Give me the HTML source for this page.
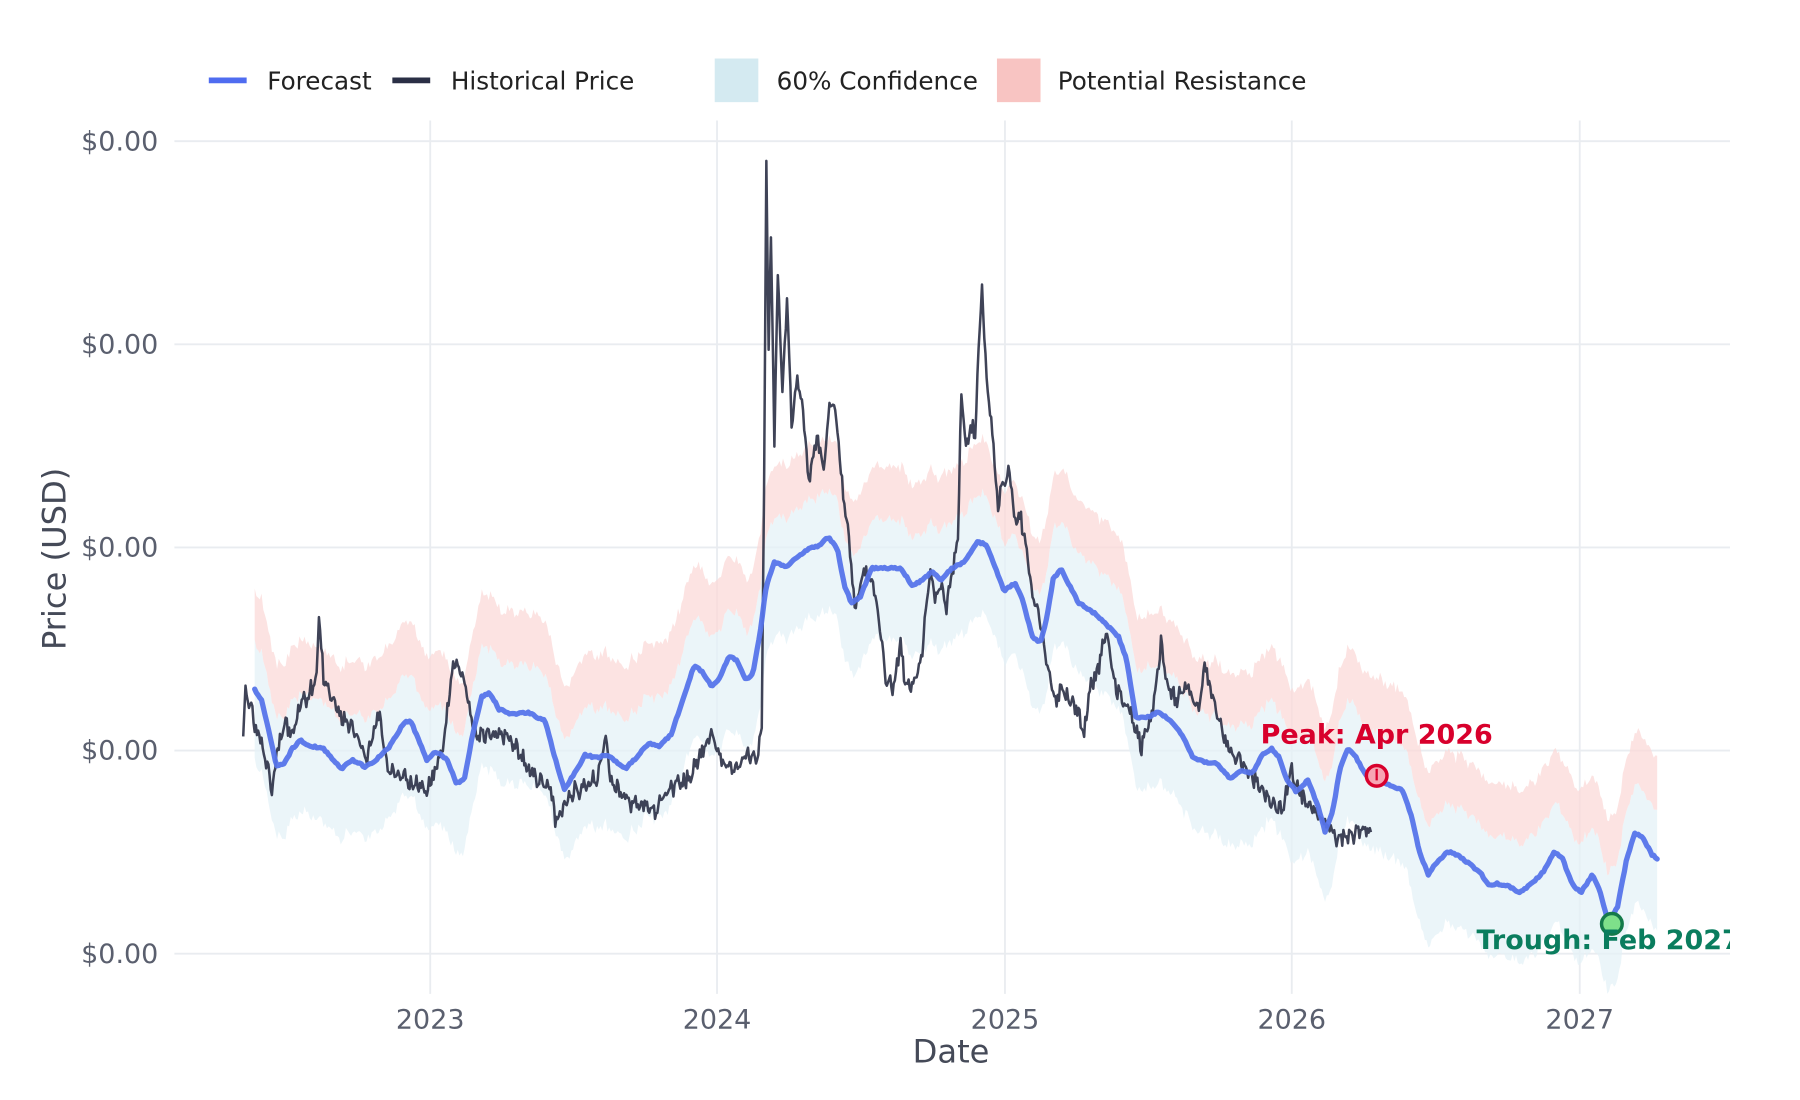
<!DOCTYPE html>
<html><head><meta charset="utf-8"><style>
html,body{margin:0;padding:0;background:#fff;}
svg{display:block;font-family:"DejaVu Sans","Liberation Sans",sans-serif;}
</style></head><body>
<svg id="s" width="1800" height="1100" viewBox="0 0 1569 958.5" preserveAspectRatio="none" xmlns="http://www.w3.org/2000/svg">
<rect width="1569" height="958.5" fill="#fff"/>
<g stroke="#e9ecf0" stroke-width="1.6">
<line x1="152" x2="1508" y1="123" y2="123"/><line x1="152" x2="1508" y1="300" y2="300"/>
<line x1="152" x2="1508" y1="477" y2="477"/><line x1="152" x2="1508" y1="654" y2="654"/>
<line x1="152" x2="1508" y1="831" y2="831"/>
<line x1="375" x2="375" y1="105" y2="866"/><line x1="625" x2="625" y1="105" y2="866"/>
<line x1="876" x2="876" y1="105" y2="866"/><line x1="1126" x2="1126" y1="105" y2="866"/>
<line x1="1377" x2="1377" y1="105" y2="866"/>
</g>
<g id="bands"></g>
<path id="hist" fill="none" stroke="#2a2f45" stroke-width="2.2" stroke-linejoin="round" opacity="0.9"/>
<path id="fc" fill="none" stroke="#5674ea" stroke-width="4.6" stroke-linejoin="round" stroke-linecap="round" opacity="0.95"/>
<g fill="#5a5f6e" font-size="23.5" text-anchor="end">
<text x="138" y="131">$0.00</text><text x="138" y="308">$0.00</text><text x="138" y="485">$0.00</text>
<text x="138" y="662">$0.00</text><text x="138" y="839">$0.00</text>
</g>
<g fill="#5a5f6e" font-size="23.5" text-anchor="middle">
<text x="375" y="896">2023</text><text x="625" y="896">2024</text><text x="876" y="896">2025</text>
<text x="1126" y="896">2026</text><text x="1377" y="896">2027</text>
</g>
<text x="829" y="926" font-size="28" fill="#454a58" text-anchor="middle">Date</text>
<text transform="translate(57,487) rotate(-90)" font-size="28" fill="#454a58" text-anchor="middle">Price (USD)</text>
<g font-size="21.5" fill="#222">
<line x1="182" x2="215" y1="70" y2="70" stroke="#4f6cf0" stroke-width="5"/><text x="233" y="78">Forecast</text>
<line x1="342" x2="375" y1="70" y2="70" stroke="#2a2f45" stroke-width="5"/><text x="393" y="78">Historical Price</text>
<rect x="623" y="51" width="38" height="38" fill="#d4eaf1"/><text x="677" y="78">60% Confidence</text>
<rect x="869" y="51" width="38" height="38" fill="#f8c4c2"/><text x="922" y="78">Potential Resistance</text>
</g>
<circle cx="1200" cy="676" r="9" fill="#f7a5b3" stroke="#d8002c" stroke-width="3"/>
<line x1="1200" x2="1200" y1="670" y2="680" stroke="#d8002c" stroke-width="2"/>
<text x="1200" y="648" font-size="23.5" font-weight="bold" fill="#d8002c" text-anchor="middle">Peak: Apr 2026</text>
<circle cx="1405" cy="805" r="9" fill="#7ee08a" stroke="#147a4a" stroke-width="3"/>
<svg x="0" y="0" width="1508" height="948" overflow="hidden"><text x="1287" y="827" font-size="23.5" font-weight="bold" fill="#0a7d5e">Trough: Feb 2027</text></svg>
</svg>
<script>
var F=[[222,601],[228,610],[235,640],[241,668],[248,665],[255,652],[262,645],[270,650],[282,652],[290,662],[298,670],[307,662],[318,668],[328,662],[340,650],[352,630],[358,628],[365,645],[372,662],[380,655],[390,662],[398,683],[405,678],[412,640],[420,607],[427,604],[435,618],[445,622],[460,621],[475,628],[485,665],[492,688],[500,675],[510,658],[520,660],[530,658],[545,670],[555,660],[565,648],[575,650],[585,640],[595,610],[605,580],[612,585],[620,598],[628,590],[635,572],[642,575],[650,592],[656,588],[662,555],[668,510],[675,490],[685,494],[695,485],[705,478],[715,475],[722,468],[730,478],[736,510],[742,525],[750,520],[760,495],[770,495],[785,495],[795,510],[805,505],[812,498],[820,505],[830,495],[840,490],[852,472],[860,475],[868,495],[875,515],[885,508],[892,525],[900,555],[907,560],[912,540],[918,505],[925,495],[932,510],[940,525],[955,535],[965,545],[975,555],[982,575],[990,625],[1000,625],[1010,620],[1020,628],[1030,640],[1040,660],[1050,664],[1060,665],[1072,678],[1082,672],[1092,673],[1100,658],[1108,652],[1115,660],[1122,680],[1130,690],[1140,680],[1148,700],[1155,725],[1162,705],[1168,670],[1175,652],[1182,660],[1190,675],[1200,678],[1210,684],[1222,688],[1230,710],[1238,745],[1245,762],[1252,752],[1262,742],[1270,745],[1280,752],[1290,760],[1298,772],[1305,770],[1315,772],[1325,778],[1335,770],[1345,760],[1355,742],[1362,748],[1370,770],[1378,778],[1388,762],[1395,778],[1402,805],[1410,790],[1418,748],[1425,726],[1432,730],[1440,745],[1445,748]];
var H=[[212,640],[214,600],[218,615],[225,640],[232,660],[237,690],[242,650],[248,630],[255,640],[262,615],[270,605],[276,590],[278,535],[282,590],[290,610],[298,625],[305,630],[312,645],[320,660],[330,620],[338,670],[345,675],[355,680],[365,684],[372,688],[380,670],[388,640],[395,575],[402,585],[408,610],[415,640],[422,640],[430,640],[440,640],[450,650],[460,670],[470,680],[480,690],[485,715],[490,705],[500,690],[510,685],[520,680],[528,640],[532,680],[540,690],[550,700],[560,700],[570,710],[580,690],[590,680],[600,680],[610,660],[620,640],[630,665],[640,670],[650,660],[660,660],[664,630],[666,430],[668,142],[670,300],[672,210],[675,380],[678,240],[682,340],[686,260],[690,370],[695,330],[700,355],[705,420],[712,380],[718,410],[722,360],[727,350],[730,380],[735,430],[740,470],[745,530],[752,500],[758,500],[765,530],[772,590],[778,600],[785,560],[790,600],[795,595],[800,590],[805,560],[810,500],[815,520],[820,510],[825,530],[830,500],[835,470],[838,340],[842,390],[846,370],[850,380],[854,280],[856,250],[858,300],[862,350],[866,390],[870,440],[875,420],[880,410],[885,455],[890,450],[895,480],[900,520],[905,530],[910,560],[915,590],[920,610],[925,600],[932,610],[940,620],[945,640],[950,600],[955,590],[960,570],[965,550],[970,590],[978,610],[985,620],[995,650],[1005,620],[1012,560],[1018,600],[1025,610],[1035,600],[1045,620],[1050,580],[1055,600],[1060,620],[1070,650],[1078,660],[1085,670],[1095,680],[1100,690],[1110,700],[1118,705],[1125,670],[1132,690],[1140,700],[1150,710],[1158,720],[1165,730],[1172,730],[1180,725],[1188,722],[1195,724]];
function interp(P,x){for(var i=1;i<P.length;i++){if(x<=P[i][0]){var a=P[i-1],b=P[i],t=(x-a[0])/(b[0]-a[0]||1);return a[1]+t*(b[1]-a[1]);}}return P[P.length-1][1];}
function nz(x){return Math.sin(x*1.7)*0.5+Math.sin(x*3.1+1)*0.35+Math.sin(x*0.53+2)*0.6;}
var seed=7;function rnd(){seed=(seed*16807)%2147483647;return seed/2147483647-0.5;}
var fx=[],x;
for(x=222;x<=1445;x+=1.5)fx.push(x);
var up=[],lo=[],pk=[],fl=[];
fx.forEach(function(x){var f=interp(F,x);var n=nz(x)*4+rnd()*4;up.push([x,f-42+n]);pk.push([x,f-88+n+rnd()*4]);lo.push([x,f+62+n+rnd()*4]);fl.push([x,f+rnd()*1.6]);});
function pts(a){return a.map(function(p){return p[0].toFixed(1)+','+p[1].toFixed(1)}).join(' L');}
var g=document.getElementById('bands');
var blue='M'+pts(up)+' L'+pts(lo.slice().reverse())+'Z';
var pink='M'+pts(pk)+' L'+pts(up.slice().reverse())+'Z';
g.innerHTML='<path d="'+blue+'" fill="#e4f2f7" opacity="0.75"/><path d="'+pink+'" fill="#fbd9d8" opacity="0.75"/>';
document.getElementById('fc').setAttribute('d','M'+pts(fl));
var hp=[];for(x=212;x<=1195;x+=1){var y=interp(H,x)+nz(x*2.3)*5+rnd()*9;hp.push([x,y]);}
document.getElementById('hist').setAttribute('d','M'+pts(hp));
</script>
</body></html>
